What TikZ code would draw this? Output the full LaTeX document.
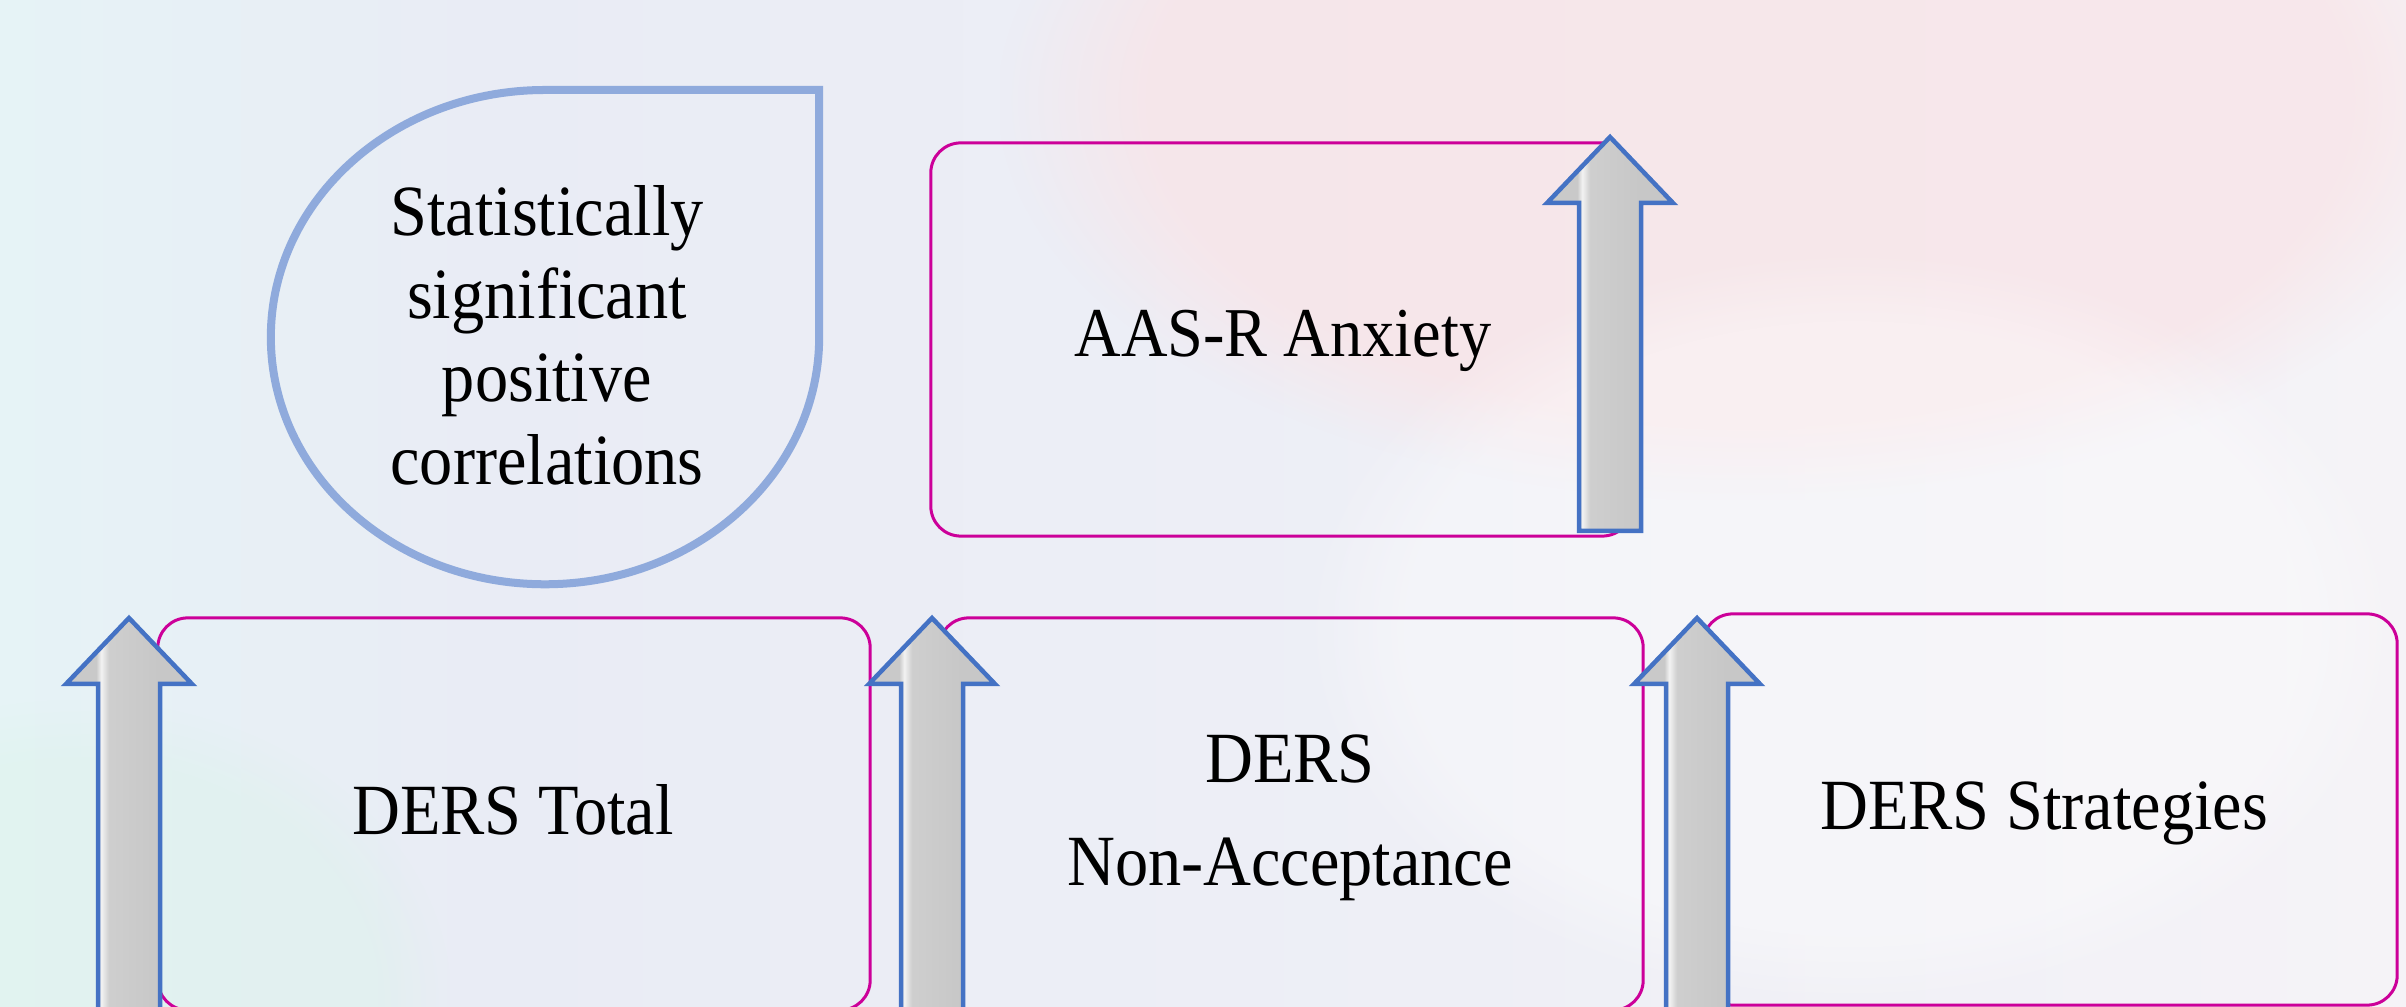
\documentclass[tikz,border=0pt]{standalone}
\usepackage{fontspec}
\setmainfont{Liberation Serif}[FakeStretch=0.92]
\usetikzlibrary{fadings}
\definecolor{boxpink}{RGB}{204,0,153}
\definecolor{tearblue}{RGB}{143,170,220}
\definecolor{arrblue}{RGB}{68,114,196}
\definecolor{bgA}{RGB}{230,243,246}
\definecolor{bgB}{RGB}{233,236,245}
\definecolor{bgC}{RGB}{238,239,246}
\definecolor{bgD}{RGB}{245,243,247}
\definecolor{blush}{RGB}{249,228,231}
\pgfdeclarehorizontalshading{bgshade}{100bp}{color(0bp)=(bgA); color(25bp)=(bgA); color(35bp)=(bgB); color(55bp)=(bgC); color(75bp)=(bgD); color(100bp)=(bgD)}
\pgfdeclarehorizontalshading{arrowgray}{100bp}{color(0bp)=(gray!42); color(37bp)=(gray!42); color(39bp)=(gray!10); color(42bp)=(gray!38); color(62bp)=(gray!44); color(100bp)=(gray!44)}
\tikzset{
  rbox/.style={draw=boxpink, line width=0.03cm, rounded corners=0.3cm, inner sep=0pt, outer sep=0pt},
  tear/.style={draw=tearblue, line width=0.08cm},
  arrowshape/.style={shade, shading=arrowgray, draw=arrblue, line width=0.045cm, line join=miter},
  txt/.style={inner sep=0pt, outer sep=0pt, text=black, align=center},
}
\newcommand\uparrowshape[3]{%
  \path[arrowshape] (#1-31,#3) -- (#1-31,#2+66) -- (#1-63,#2+66) -- (#1,#2) -- (#1+63,#2+66) -- (#1+31,#2+66) -- (#1+31,#3) -- cycle;}
\begin{document}
\begin{tikzpicture}[x=0.01cm,y=-0.01cm]
\useasboundingbox (0,0) rectangle (2406,1007);
\clip (0,0) rectangle (2406,1007);
% background
\shade[shading=bgshade] (0,0) rectangle (2406,1007);
\fill[blush, opacity=0.75, path fading=circle with fuzzy edge 20 percent] (1000,-300) rectangle (2500,500);
\fill[white, opacity=0.35, path fading=circle with fuzzy edge 20 percent] (1300,250) rectangle (2406,1007);
\fill[green!6!bgA, opacity=0.35, path fading=circle with fuzzy edge 20 percent] (-300,700) rectangle (450,1300);
% teardrop
\draw[tear] (819,90) -- (545,90) arc[start angle=90, end angle=360, x radius=2.74cm, y radius=2.47cm] -- cycle;
\node[txt, font=\fontsize{20.5pt}{23.62pt}\selectfont] (stat) at (547,335.5) {Statistically\\significant\\positive\\correlations};
% boxes
\node[rbox, minimum width=7.01cm, minimum height=3.93cm] (aas) at (1281.5,339.5) {};
\node[rbox, minimum width=7.12cm, minimum height=3.92cm] (tot) at (514,814) {};
\node[rbox, minimum width=7.04cm, minimum height=3.92cm] (nonacc) at (1291,814) {};
\node[rbox, minimum width=6.94cm, minimum height=3.91cm] (strat) at (2050,809.5) {};
% texts
\node[txt, anchor=base, font=\fontsize{19.9pt}{24pt}\selectfont] (aastxt) at (1283,357) {AAS-R Anxiety};
\node[txt, anchor=base, font=\fontsize{20.5pt}{24pt}\selectfont] (tottxt) at (513,835) {DERS Total};
\node[txt, font=\fontsize{20.5pt}{29.3pt}\selectfont] (nonacctxt) at (1290,817.5) {DERS\\Non-Acceptance};
\node[txt, anchor=base, font=\fontsize{20.5pt}{24pt}\selectfont] (strattxt) at (2044,830) {DERS Strategies};
% arrows
\uparrowshape{1610}{137}{531}
\uparrowshape{129}{618}{1030}
\uparrowshape{932}{618}{1030}
\uparrowshape{1697}{618}{1030}
\end{tikzpicture}
\end{document}
